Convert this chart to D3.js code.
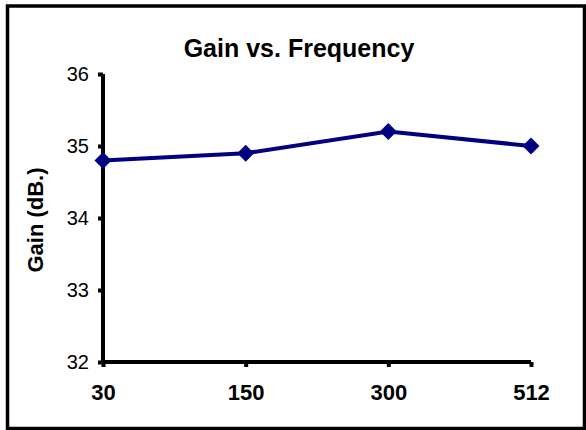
<!DOCTYPE html>
<html>
<head>
<meta charset="utf-8">
<script src="https://cdn.jsdelivr.net/npm/d3@7"></script>
<style>
  body { margin: 0; background: #fff; }
  text { font-family: Arial, "Liberation Sans", sans-serif; }
</style>
</head>
<body>
<script>
'use strict';

var categories = ["30", "150", "300", "512"];
var gainValues = [34.8, 34.9, 35.2, 35.0];
var yTicks = [32, 33, 34, 35, 36];

var width = 586, height = 430;

var svg = d3.select("body").append("svg")
   .attr("width", width)
   .attr("height", height);

// outer frame
svg.append("rect")
   .attr("x", 7.5).attr("y", 6)
   .attr("width", 577).attr("height", 422.5)
   .attr("fill", "none")
   .attr("stroke", "#000")
   .attr("stroke-width", 3.5);

var x = d3.scalePoint()
   .domain(categories)
   .range([103, 531]);

var y = d3.scaleLinear()
   .domain([32, 36])
   .range([362, 74]);

// y axis
var yAxis = svg.append("g")
   .attr("transform", "translate(103,0)")
   .call(d3.axisLeft(y).tickValues(yTicks).tickSize(5).tickPadding(9).tickFormat(d3.format("d")));
yAxis.select(".domain").attr("stroke-width", 4).attr("d", "M0," + y(36) + "V" + y(32));
yAxis.selectAll(".tick line").attr("stroke-width", 4);
yAxis.selectAll("text").attr("font-size", 20).attr("font-family", "Arial, 'Liberation Sans', sans-serif").attr("fill", "#000");

// x axis
var xAxis = svg.append("g")
   .attr("transform", "translate(0," + y(32) + ")")
   .call(d3.axisBottom(x).tickSize(5).tickPadding(17));
xAxis.select(".domain").attr("stroke-width", 4).attr("d", "M" + x("30") + ",0H" + x("512"));
xAxis.selectAll(".tick line").attr("stroke-width", 4);
xAxis.selectAll("text").attr("font-size", 22).attr("font-weight", "bold")
   .attr("font-family", "Arial, 'Liberation Sans', sans-serif").attr("fill", "#000");

// title
svg.append("text")
   .attr("x", 299).attr("y", 57)
   .attr("text-anchor", "middle")
   .attr("font-size", 25).attr("font-weight", "bold")
   .text("Gain vs. Frequency");

// y label
svg.append("text")
   .attr("transform", "translate(43,220) rotate(-90)")
   .attr("text-anchor", "middle")
   .attr("font-size", 22).attr("font-weight", "bold")
   .text("Gain (dB.)");

// line
var line = d3.line()
   .x(function(d, i){ return x(categories[i]); })
   .y(function(d){ return y(d); });

svg.append("path")
   .datum(gainValues)
   .attr("d", line)
   .attr("fill", "none")
   .attr("stroke", "#000080")
   .attr("stroke-width", 4);

svg.selectAll("rect.marker")
   .data(gainValues)
   .enter()
   .append("rect")
   .attr("class", "marker")
   .attr("x", -6).attr("y", -6)
   .attr("width", 12).attr("height", 12)
   .attr("transform", function(d, i){ return "translate(" + x(categories[i]) + "," + y(d) + ") rotate(45)"; })
   .attr("fill", "#000080");
</script>
</body>
</html>
